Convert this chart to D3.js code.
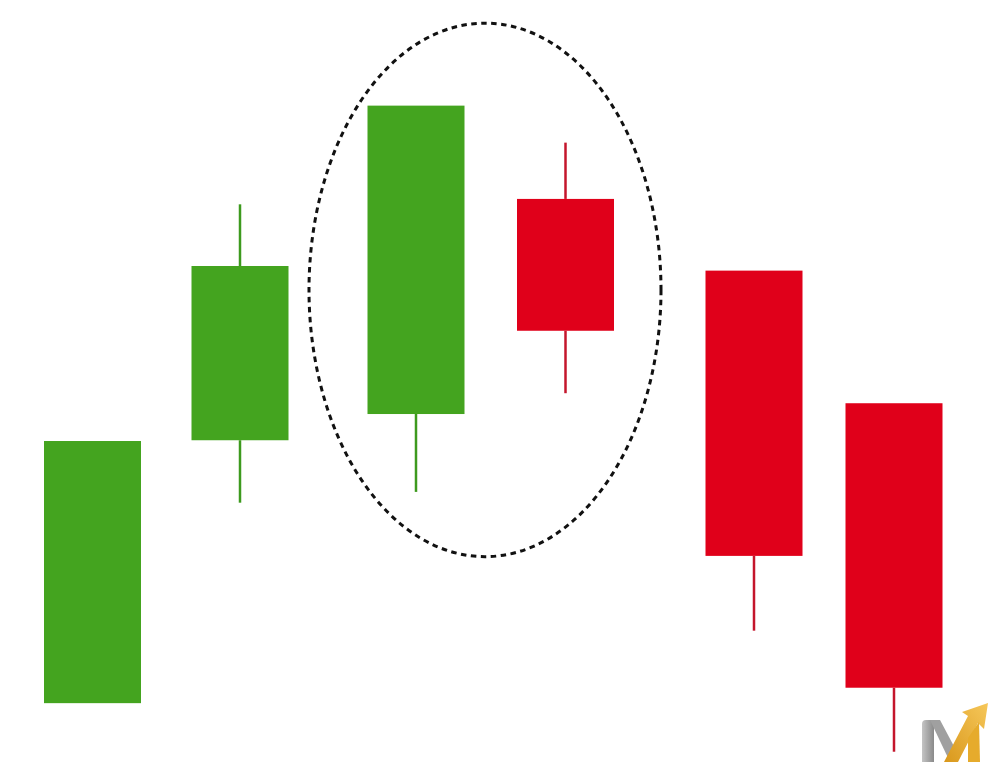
<!DOCTYPE html>
<html><head><meta charset="utf-8">
<script src="https://cdn.jsdelivr.net/npm/d3@7"></script>
<style>html,body{margin:0;padding:0;background:#fff;}svg{display:block;}</style>
</head><body>
<script>
// Data (price units; x = time position)
const positions = [0.925, 2.40, 4.16, 5.655, 7.54, 8.94];
const opens  = [8.8, 42.9, 46.3, 74.2, 64.9, 47.7];
const closes = [42.8, 65.5, 86.3, 57.1, 27.9, 10.8];
const highs  = [42.8, 73.5, 86.3, 81.5, 64.9, 47.7];
const lows   = [8.8, 34.8, 36.2, 49.0, 18.2, 2.5];
const highlight = {x: 4.85, y: 62.4, rx: 1.76, ry: 34.6};

const W = 1000, H = 771;
const x = d3.scaleLinear().domain([0, 10]).range([0, W]);
const y = d3.scaleLinear().domain([0, 100]).range([H, 0]);
const bodyW = x(0.97) - x(0);
const up = "#44a41f", down = "#e0001a";
const upWick = "#3d9a1e", downWick = "#c4162c";

const svg = d3.select("body").append("svg").attr("width", W).attr("height", H);

const data = positions.map((p, i) => ({p, o: opens[i], c: closes[i], h: highs[i], l: lows[i]}));

// wick segments (upper and lower), only where they extend beyond the body
const segs = [];
data.forEach(d => {
  const top = Math.max(d.o, d.c), bot = Math.min(d.o, d.c);
  const col = d.c >= d.o ? upWick : downWick;
  if (d.h > top) segs.push({p: d.p, a: d.h, b: top, col});
  if (d.l < bot) segs.push({p: d.p, a: bot, b: d.l, col});
});

const g = svg.append("g");
g.selectAll("line.wick").data(segs).join("line")
  .attr("x1", d => x(d.p)).attr("x2", d => x(d.p))
  .attr("y1", d => y(d.a)).attr("y2", d => y(d.b))
  .attr("stroke", d => d.col)
  .attr("stroke-width", 2.5);
g.selectAll("rect.body").data(data).join("rect")
  .attr("x", d => x(d.p) - bodyW / 2)
  .attr("width", bodyW)
  .attr("y", d => y(Math.max(d.o, d.c)))
  .attr("height", d => Math.abs(y(d.o) - y(d.c)))
  .attr("fill", d => d.c >= d.o ? up : down);

svg.append("ellipse")
  .attr("cx", x(highlight.x)).attr("cy", y(highlight.y))
  .attr("rx", x(highlight.rx) - x(0)).attr("ry", y(0) - y(highlight.ry))
  .attr("fill", "none").attr("stroke", "#111")
  .attr("stroke-width", 3).attr("stroke-dasharray", "5.5,4.5");

// logo
const logo = svg.append("g");
const defs = svg.append("defs");
const gg = defs.append("linearGradient").attr("id", "gray").attr("x1", "0").attr("x2", "1");
gg.append("stop").attr("offset", "0").attr("stop-color", "#c4c4c4");
gg.append("stop").attr("offset", "1").attr("stop-color", "#8a8a8a");
const gd = defs.append("linearGradient").attr("id", "gold").attr("x1", "0").attr("x2", "1").attr("y1","1").attr("y2","0");
gd.append("stop").attr("offset", "0").attr("stop-color", "#d9981c");
gd.append("stop").attr("offset", "1").attr("stop-color", "#f6c75a");
logo.append("path").attr("d", "M922,724 Q922,720 926,720 L934,720 L934,762 L922,762 Z").attr("fill", "url(#gray)");
logo.append("path").attr("d", "M930,720 L940,720 L957,752 L950,762 Z").attr("fill", "#a0a0a0");
logo.append("path").attr("d", "M944,762 L968,716 L962,712 L988,703 L984,729 L978,723 L958,762 Z").attr("fill", "url(#gold)");
logo.append("path").attr("d", "M968,738 L979,722 L980,762 L968,762 Z").attr("fill", "#e6ab2c");
</script>
</body></html>
